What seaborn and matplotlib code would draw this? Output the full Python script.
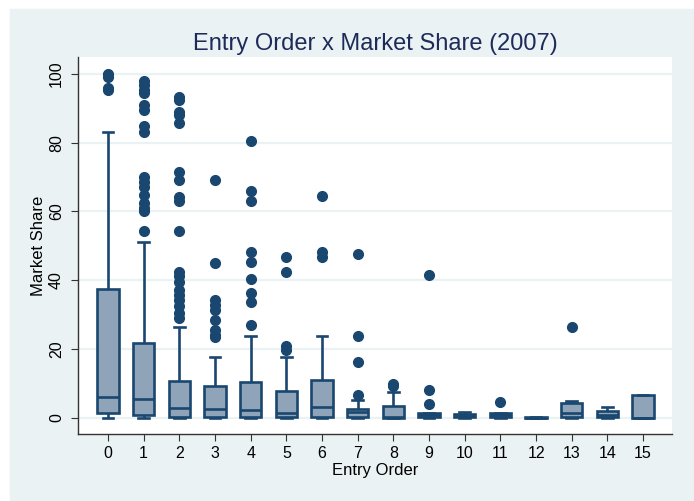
import numpy as np
import pandas as pd
import matplotlib
matplotlib.use("Agg")
import matplotlib.pyplot as plt
import seaborn as sns

# box statistics, one entry per entry order
entry_order = list(range(16))
whisker_low = [0, 0, 0, 0, 0, 0, 0, 0, 0, 0, 0, 0, 0, 0, 0, 0]
q1 = [1.3, 0.8, 0.2, 0.2, 0.2, 0.2, 0.2, 0.1, 0.0, 0.1, 0.1, 0.1, 0.0, 0.1, 0.1, 0.0]
median = [6.0, 5.5, 2.8, 2.7, 2.3, 1.5, 3.1, 1.6, 0.3, 0.9, 0.5, 0.9, 0.0, 1.4, 0.8, 0.0]
q3 = [37.5, 21.8, 10.8, 9.3, 10.3, 7.7, 11.0, 2.5, 3.5, 1.5, 1.2, 1.5, 0.2, 4.4, 2.0, 6.5]
whisker_high = [83.0, 51.0, 26.3, 17.8, 23.9, 17.8, 23.8, 5.2, 7.5, 1.5, 1.7, 1.5, 0.2, 4.8, 3.2, 6.5]
outliers = [
    [95.2, 96.0, 99.0, 99.6, 100.0],
    [54.2, 60.0, 61.0, 62.4, 64.8, 67.2, 68.7, 70.1, 83.2, 84.7, 89.5, 91.0,
     94.4, 95.3, 96.8, 97.8],
    [29.0, 30.4, 32.4, 34.3, 35.8, 37.2, 39.6, 41.1, 42.5, 54.2, 62.9, 64.3,
     69.2, 71.6, 85.7, 88.1, 89.0, 92.4, 93.4],
    [23.4, 24.1, 25.6, 28.5, 31.4, 32.8, 34.3, 45.0, 69.2],
    [27.0, 33.8, 36.2, 40.5, 45.2, 48.3, 62.9, 65.8, 80.6],
    [19.8, 21.0, 42.3, 46.7],
    [46.9, 48.1, 64.6],
    [6.7, 16.1, 23.8, 47.7],
    [9.2, 9.9],
    [3.9, 8.1, 41.6],
    [],
    [4.5],
    [],
    [26.5],
    [],
    [],
]

# rebuild a sample per group whose quartiles land on the values above (n = 4k+1)
rows = []
for g in entry_order:
    k = len(outliers[g]) + 1
    vals = ([whisker_low[g]] + [q1[g]] * k + [median[g]] * k + [q3[g]] * k
            + [whisker_high[g]] + outliers[g])
    for v in vals:
        rows.append((g, v))
df = pd.DataFrame(rows, columns=["entry", "share"])

navy = "#1A476F"
fill = "#8FA4B8"
bg = "#EAF2F3"

plt.rcParams["font.family"] = ["Liberation Sans", "DejaVu Sans"]

fig = plt.figure(figsize=(6.94, 5.01), dpi=100, facecolor="white")
fig.patches.append(plt.Rectangle((10 / 694, 0), 1, (501 - 9) / 501,
                                 transform=fig.transFigure, color=bg, zorder=-10))
ax = fig.add_axes([78 / 694, 1 - 434 / 501, (672 - 78) / 694, (434 - 57) / 501])
ax.set_facecolor("white")

sns.boxplot(data=df, x="entry", y="share", order=entry_order, color=fill,
            saturation=1, width=0.6, linecolor=navy, linewidth=1.9,
            fliersize=7, whis=1.5,
            flierprops=dict(marker="o", markerfacecolor=navy,
                            markeredgecolor=navy), ax=ax)

ax.set_xlim(-0.84, 15.81)
ax.set_ylim(-4.7, 104.9)
ax.set_yticks([0, 20, 40, 60, 80, 100])
ax.yaxis.grid(True, color=bg, linewidth=1.6)
ax.set_axisbelow(True)
for s in ["top", "right"]:
    ax.spines[s].set_visible(False)
for s in ["left", "bottom"]:
    ax.spines[s].set_color("#333333")
    ax.spines[s].set_linewidth(1.0)
ax.tick_params(axis="both", length=5, color="#333333", labelsize=11.5)
ax.tick_params(axis="x", pad=4)
ax.tick_params(axis="y", pad=5)
plt.setp(ax.get_yticklabels(), rotation=90, va="center")

ax.set_title("Entry Order x Market Share (2007)", fontsize=17, color="#1E2B5A", pad=5)
ax.set_xlabel("Entry Order", fontsize=12, labelpad=1)
ax.set_ylabel("Market Share", fontsize=12, labelpad=2)

fig.savefig("out.png", dpi=100, facecolor=fig.get_facecolor())
